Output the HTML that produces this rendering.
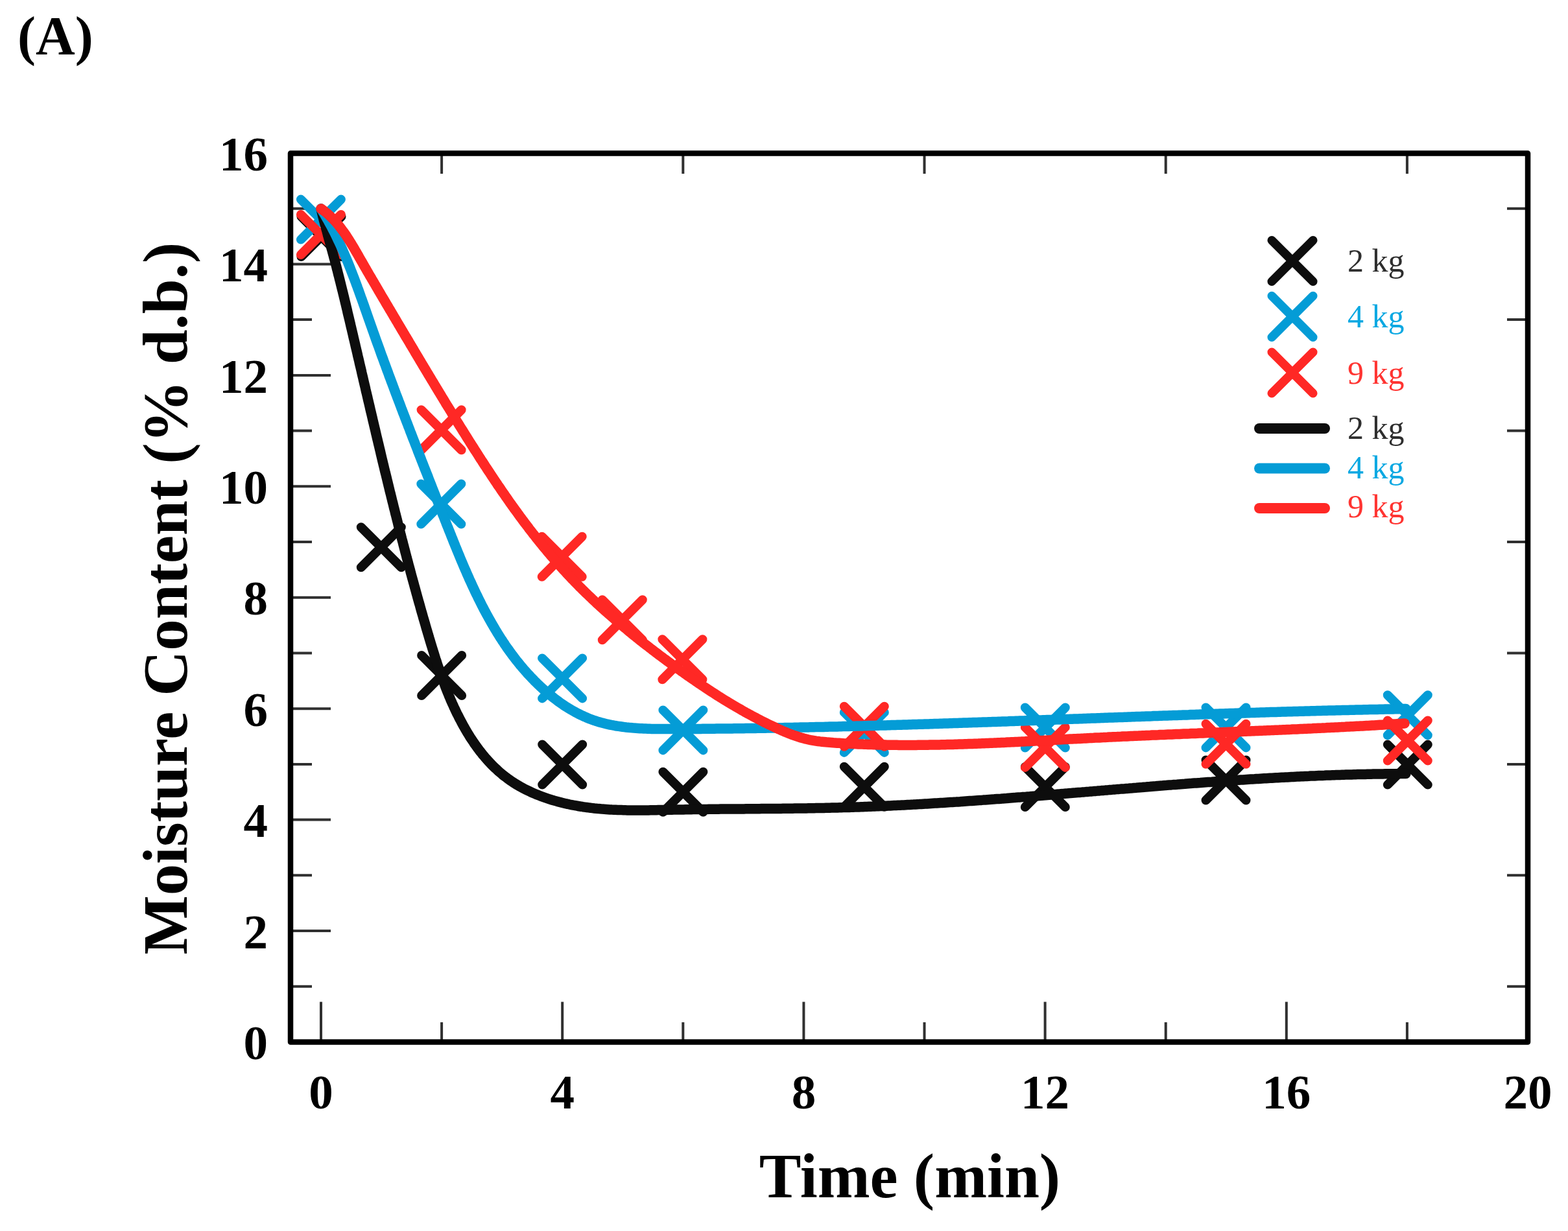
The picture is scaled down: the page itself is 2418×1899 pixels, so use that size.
<!DOCTYPE html>
<html><head><meta charset="utf-8"><title>Moisture Content vs Time</title>
<style>html,body{margin:0;padding:0;background:#fff;}body{width:2418px;height:1899px;overflow:hidden;}svg{display:block;}</style>
</head><body>
<div id="w"><svg width="2418" height="1899" viewBox="0 0 2418 1899">
<rect width="2418" height="1899" fill="#fff"/>
<path d="M448.0 1521.8H481.0M2356.0 1521.8H2324.0M448.0 1436.1H510.0M448.0 1350.3H481.0M2356.0 1350.3H2324.0M448.0 1264.6H510.0M448.0 1178.9H481.0M2356.0 1178.9H2324.0M448.0 1093.2H510.0M448.0 1007.5H481.0M2356.0 1007.5H2324.0M448.0 921.7H510.0M448.0 836.0H481.0M2356.0 836.0H2324.0M448.0 750.3H510.0M448.0 664.6H481.0M2356.0 664.6H2324.0M448.0 578.9H510.0M448.0 493.1H481.0M2356.0 493.1H2324.0M448.0 407.4H510.0M448.0 321.7H481.0M2356.0 321.7H2324.0M495.0 1607.5V1545.5M681.1 1607.5V1577.0M681.1 236.5V268.0M867.2 1607.5V1545.5M1053.3 1607.5V1577.0M1053.3 236.5V268.0M1239.4 1607.5V1545.5M1425.5 1607.5V1577.0M1425.5 236.5V268.0M1611.6 1607.5V1545.5M1797.7 1607.5V1577.0M1797.7 236.5V268.0M1983.8 1607.5V1545.5M2169.9 1607.5V1577.0M2169.9 236.5V268.0" stroke="#303030" stroke-width="4" fill="none"/>
<rect x="448" y="236.5" width="1908" height="1371" fill="none" stroke="#000" stroke-width="8.5" stroke-linejoin="round"/>
<path d="M464.5 334.0L526.5 396.0M464.5 396.0L526.5 334.0M556.8 813.3L618.8 875.3M556.8 875.3L618.8 813.3M650.1 1011.0L712.1 1073.0M650.1 1073.0L712.1 1011.0M836.2 1148.5L898.2 1210.5M836.2 1210.5L898.2 1148.5M1022.4 1190.8L1084.4 1252.8M1022.4 1252.8L1084.4 1190.8M1301.8 1182.8L1363.8 1244.8M1301.8 1244.8L1363.8 1182.8M1580.8 1183.0L1642.8 1245.0M1580.8 1245.0L1642.8 1183.0M1859.5 1172.5L1921.5 1234.5M1859.5 1234.5L1921.5 1172.5M2139.8 1148.6L2201.8 1210.6M2139.8 1210.6L2201.8 1148.6" stroke="#0d0d0d" stroke-width="14" stroke-linecap="round" fill="none"/>
<path d="M463.9 307.6L525.9 369.6M463.9 369.6L525.9 307.6M649.3 746.5L711.3 808.5M649.3 808.5L711.3 746.5M836.1 1015.4L898.1 1077.4M836.1 1077.4L898.1 1015.4M1022.4 1095.4L1084.4 1157.4M1022.4 1157.4L1084.4 1095.4M1301.8 1098.9L1363.8 1160.9M1301.8 1160.9L1363.8 1098.9M1580.8 1091.5L1642.8 1153.5M1580.8 1153.5L1642.8 1091.5M1859.5 1091.4L1921.5 1153.4M1859.5 1153.4L1921.5 1091.4M2139.8 1072.3L2201.8 1134.3M2139.8 1134.3L2201.8 1072.3" stroke="#049cd6" stroke-width="14" stroke-linecap="round" fill="none"/>
<path d="M463.9 331.0L525.9 393.0M463.9 393.0L525.9 331.0M649.6 632.2L711.6 694.2M649.6 694.2L711.6 632.2M835.7 827.8L897.7 889.8M835.7 889.8L897.7 827.8M928.8 925.3L990.8 987.3M928.8 987.3L990.8 925.3M1021.4 986.3L1083.4 1048.3M1021.4 1048.3L1083.4 986.3M1301.8 1089.7L1363.8 1151.7M1301.8 1151.7L1363.8 1089.7M1580.8 1121.9L1642.8 1183.9M1580.8 1183.9L1642.8 1121.9M1859.5 1116.8L1921.5 1178.8M1859.5 1178.8L1921.5 1116.8M2139.8 1111.5L2201.8 1173.5M2139.8 1173.5L2201.8 1111.5" stroke="#ff2825" stroke-width="14" stroke-linecap="round" fill="none"/>
<path d="M495.0 322.0 L495.7 324.9 L496.4 327.8 L497.1 330.7 L497.8 333.6 L498.6 336.5 L499.3 339.4 L500.1 342.3 L500.9 345.2 L501.6 348.1 L502.4 351.0 L503.2 353.9 L504.0 356.8 L504.8 359.7 L505.5 362.6 L506.3 365.5 L507.1 368.4 L507.9 371.3 L508.7 374.2 L509.5 377.1 L510.3 380.0 L511.1 382.9 L511.9 385.8 L512.7 388.7 L513.5 391.6 L514.3 394.5 L515.0 397.4 L515.8 400.3 L516.6 403.2 L517.3 406.1 L518.1 409.0 L518.9 411.9 L519.6 414.9 L520.4 417.8 L521.1 420.7 L521.8 423.6 L522.6 426.5 L523.3 429.4 L524.0 432.3 L524.8 435.2 L525.5 438.1 L526.2 441.0 L526.9 443.9 L527.6 446.8 L528.4 449.7 L529.1 452.6 L529.8 455.5 L530.5 458.4 L531.2 461.3 L531.9 464.2 L532.6 467.1 L533.3 470.1 L534.0 473.0 L534.7 475.9 L535.4 478.8 L536.0 481.7 L536.7 484.6 L537.4 487.5 L538.1 490.4 L538.8 493.3 L539.5 496.2 L540.2 499.1 L540.8 502.0 L541.5 504.9 L542.2 507.8 L542.9 510.8 L543.6 513.7 L544.3 516.6 L544.9 519.5 L545.6 522.4 L546.3 525.3 L547.0 528.2 L547.7 531.1 L548.3 534.0 L549.0 536.9 L549.7 539.8 L550.4 542.7 L551.1 545.7 L551.7 548.6 L552.4 551.5 L553.1 554.4 L553.8 557.3 L554.4 560.2 L555.1 563.1 L555.8 566.0 L556.5 568.9 L557.2 571.8 L557.8 574.8 L558.5 577.7 L559.2 580.6 L559.9 583.5 L560.5 586.4 L561.2 589.3 L561.9 592.2 L562.6 595.1 L563.3 598.0 L563.9 600.9 L564.6 603.9 L565.3 606.8 L566.0 609.7 L566.7 612.6 L567.3 615.5 L568.0 618.4 L568.7 621.3 L569.4 624.2 L570.1 627.1 L570.7 630.0 L571.4 633.0 L572.1 635.9 L572.8 638.8 L573.5 641.7 L574.2 644.6 L574.8 647.5 L575.5 650.4 L576.2 653.3 L576.9 656.3 L577.6 659.2 L578.3 662.1 L579.0 665.0 L579.6 667.9 L580.3 670.8 L581.0 673.7 L581.7 676.6 L582.4 679.5 L583.1 682.5 L583.8 685.4 L584.5 688.3 L585.2 691.2 L585.9 694.1 L586.6 697.0 L587.2 699.9 L587.9 702.8 L588.6 705.7 L589.3 708.7 L590.0 711.6 L590.7 714.5 L591.4 717.4 L592.1 720.3 L592.8 723.2 L593.5 726.1 L594.2 729.0 L595.0 732.0 L595.7 734.9 L596.4 737.8 L597.1 740.7 L597.8 743.6 L598.5 746.5 L599.2 749.4 L599.9 752.3 L600.6 755.3 L601.3 758.2 L602.1 761.1 L602.8 764.0 L603.5 766.9 L604.2 769.8 L604.9 772.7 L605.7 775.6 L606.4 778.5 L607.1 781.5 L607.8 784.4 L608.6 787.3 L609.3 790.2 L610.0 793.1 L610.8 796.0 L611.5 798.9 L612.2 801.8 L613.0 804.8 L613.7 807.7 L614.4 810.6 L615.2 813.5 L615.9 816.4 L616.7 819.3 L617.4 822.2 L618.1 825.1 L618.9 828.0 L619.6 831.0 L620.4 833.9 L621.2 836.8 L621.9 839.7 L622.7 842.6 L623.4 845.5 L624.2 848.4 L624.9 851.3 L625.7 854.3 L626.5 857.2 L627.2 860.1 L628.0 863.0 L628.8 865.9 L629.5 868.8 L630.3 871.7 L631.1 874.6 L631.9 877.5 L632.7 880.4 L633.4 883.4 L634.2 886.3 L635.0 889.2 L635.8 892.1 L636.6 895.0 L637.4 897.9 L638.2 900.8 L639.0 903.7 L639.8 906.6 L640.6 909.6 L641.4 912.5 L642.2 915.4 L643.0 918.3 L643.8 921.2 L644.6 924.1 L645.4 927.0 L646.2 929.9 L647.1 932.8 L647.9 935.7 L648.7 938.7 L649.5 941.6 L650.3 944.5 L651.2 947.4 L652.0 950.3 L652.8 953.2 L653.7 956.1 L654.5 959.0 L655.4 961.9 L656.2 964.8 L657.0 967.7 L657.9 970.7 L658.8 973.6 L659.6 976.5 L660.5 979.4 L661.3 982.3 L662.2 985.2 L663.1 988.1 L663.9 991.0 L664.8 993.9 L665.7 996.8 L666.6 999.7 L667.5 1002.6 L668.4 1005.5 L669.3 1008.4 L670.2 1011.3 L671.1 1014.2 L672.0 1017.1 L673.0 1019.9 L673.9 1022.8 L674.8 1025.7 L675.8 1028.6 L676.8 1031.4 L677.7 1034.3 L678.7 1037.1 L679.7 1040.0 L680.7 1042.8 L681.8 1045.7 L682.8 1048.5 L683.8 1051.4 L684.9 1054.2 L685.9 1057.0 L687.0 1059.8 L688.1 1062.6 L689.2 1065.4 L690.3 1068.2 L691.5 1071.0 L692.6 1073.8 L693.8 1076.5 L694.9 1079.3 L696.1 1082.0 L697.3 1084.8 L698.6 1087.5 L699.8 1090.3 L701.1 1093.0 L702.3 1095.7 L703.6 1098.4 L704.9 1101.1 L706.3 1103.7 L707.6 1106.4 L709.0 1109.1 L710.4 1111.7 L711.8 1114.4 L713.2 1117.0 L714.6 1119.6 L716.1 1122.2 L717.6 1124.8 L719.1 1127.4 L720.6 1129.9 L722.2 1132.5 L723.7 1135.0 L725.3 1137.6 L727.0 1140.1 L728.6 1142.5 L730.3 1145.0 L731.9 1147.5 L733.7 1149.9 L735.4 1152.3 L737.1 1154.7 L738.9 1157.1 L740.7 1159.4 L742.6 1161.8 L744.4 1164.1 L746.3 1166.3 L748.2 1168.6 L750.1 1170.8 L752.1 1173.0 L754.1 1175.2 L756.1 1177.3 L758.1 1179.5 L760.2 1181.6 L762.3 1183.6 L764.4 1185.6 L766.6 1187.6 L768.7 1189.6 L770.9 1191.5 L773.2 1193.4 L775.4 1195.3 L777.7 1197.1 L780.1 1198.9 L782.4 1200.7 L784.8 1202.4 L787.2 1204.1 L789.6 1205.8 L792.1 1207.4 L794.6 1209.0 L797.1 1210.5 L799.7 1212.0 L802.2 1213.5 L804.8 1214.9 L807.5 1216.3 L810.1 1217.7 L812.8 1219.0 L815.5 1220.3 L818.2 1221.6 L820.9 1222.8 L823.6 1224.0 L826.4 1225.2 L829.2 1226.3 L832.0 1227.4 L834.8 1228.5 L837.6 1229.5 L840.4 1230.5 L843.3 1231.5 L846.2 1232.5 L849.0 1233.4 L851.9 1234.3 L854.8 1235.1 L857.7 1235.9 L860.6 1236.7 L863.6 1237.5 L866.5 1238.3 L869.4 1239.0 L872.4 1239.7 L875.3 1240.3 L878.3 1241.0 L881.2 1241.6 L884.2 1242.2 L887.1 1242.7 L890.1 1243.2 L893.0 1243.8 L896.0 1244.2 L899.0 1244.7 L901.9 1245.1 L904.9 1245.5 L907.8 1245.9 L910.8 1246.3 L913.8 1246.6 L916.7 1247.0 L919.7 1247.3 L922.7 1247.6 L925.6 1247.8 L928.6 1248.1 L931.6 1248.3 L934.5 1248.5 L937.5 1248.7 L940.5 1248.9 L943.5 1249.1 L946.4 1249.2 L949.4 1249.3 L952.4 1249.5 L955.4 1249.6 L958.3 1249.6 L961.3 1249.7 L964.3 1249.8 L967.3 1249.9 L970.3 1249.9 L973.2 1249.9 L976.2 1250.0 L979.2 1250.0 L982.2 1250.0 L985.2 1250.0 L988.2 1250.0 L991.2 1249.9 L994.1 1249.9 L997.1 1249.9 L1000.1 1249.9 L1003.1 1249.8 L1006.1 1249.8 L1009.1 1249.7 L1012.1 1249.7 L1015.1 1249.6 L1018.1 1249.6 L1021.1 1249.5 L1024.0 1249.4 L1027.0 1249.4 L1030.0 1249.3 L1033.0 1249.2 L1036.0 1249.2 L1039.0 1249.1 L1042.0 1249.1 L1045.0 1249.0 L1048.0 1249.0 L1051.0 1248.9 L1054.0 1248.9 L1057.0 1248.8 L1060.0 1248.8 L1063.0 1248.7 L1066.0 1248.7 L1069.0 1248.6 L1072.0 1248.6 L1075.0 1248.5 L1078.0 1248.5 L1081.0 1248.5 L1084.0 1248.4 L1087.0 1248.4 L1090.0 1248.4 L1093.0 1248.3 L1096.0 1248.3 L1099.0 1248.3 L1102.0 1248.2 L1105.1 1248.2 L1108.1 1248.2 L1111.1 1248.1 L1114.1 1248.1 L1117.1 1248.1 L1120.1 1248.1 L1123.1 1248.0 L1126.1 1248.0 L1129.1 1248.0 L1132.1 1248.0 L1135.1 1247.9 L1138.1 1247.9 L1141.1 1247.9 L1144.2 1247.9 L1147.2 1247.9 L1150.2 1247.8 L1153.2 1247.8 L1156.2 1247.8 L1159.2 1247.8 L1162.2 1247.7 L1165.2 1247.7 L1168.2 1247.7 L1171.2 1247.7 L1174.3 1247.6 L1177.3 1247.6 L1180.3 1247.6 L1183.3 1247.6 L1186.3 1247.5 L1189.3 1247.5 L1192.3 1247.5 L1195.3 1247.5 L1198.3 1247.4 L1201.3 1247.4 L1204.4 1247.4 L1207.4 1247.3 L1210.4 1247.3 L1213.4 1247.3 L1216.4 1247.3 L1219.4 1247.2 L1222.4 1247.2 L1225.4 1247.1 L1228.4 1247.1 L1231.5 1247.1 L1234.5 1247.0 L1237.5 1247.0 L1240.5 1246.9 L1243.5 1246.9 L1246.5 1246.8 L1249.5 1246.8 L1252.5 1246.7 L1255.5 1246.7 L1258.5 1246.6 L1261.6 1246.6 L1264.6 1246.5 L1267.6 1246.5 L1270.6 1246.4 L1273.6 1246.3 L1276.6 1246.3 L1279.6 1246.2 L1282.6 1246.1 L1285.6 1246.0 L1288.6 1246.0 L1291.6 1245.9 L1294.6 1245.8 L1297.6 1245.7 L1300.7 1245.6 L1303.7 1245.6 L1306.7 1245.5 L1309.7 1245.4 L1312.7 1245.3 L1315.7 1245.2 L1318.7 1245.1 L1321.7 1245.0 L1324.7 1244.9 L1327.7 1244.8 L1330.7 1244.7 L1333.7 1244.5 L1336.7 1244.4 L1339.7 1244.3 L1342.7 1244.2 L1345.7 1244.1 L1348.7 1243.9 L1351.7 1243.8 L1354.7 1243.7 L1357.7 1243.6 L1360.7 1243.4 L1363.7 1243.3 L1366.7 1243.2 L1369.7 1243.0 L1372.7 1242.9 L1375.7 1242.7 L1378.7 1242.6 L1381.7 1242.5 L1384.7 1242.3 L1387.7 1242.2 L1390.7 1242.0 L1393.7 1241.9 L1396.7 1241.7 L1399.7 1241.5 L1402.7 1241.4 L1405.7 1241.2 L1408.7 1241.1 L1411.7 1240.9 L1414.7 1240.7 L1417.7 1240.6 L1420.7 1240.4 L1423.7 1240.2 L1426.6 1240.0 L1429.6 1239.9 L1432.6 1239.7 L1435.6 1239.5 L1438.6 1239.3 L1441.6 1239.1 L1444.6 1239.0 L1447.6 1238.8 L1450.6 1238.6 L1453.6 1238.4 L1456.6 1238.2 L1459.6 1238.0 L1462.6 1237.8 L1465.6 1237.6 L1468.6 1237.4 L1471.5 1237.2 L1474.5 1237.1 L1477.5 1236.9 L1480.5 1236.7 L1483.5 1236.4 L1486.5 1236.2 L1489.5 1236.0 L1492.5 1235.8 L1495.5 1235.6 L1498.5 1235.4 L1501.5 1235.2 L1504.4 1235.0 L1507.4 1234.8 L1510.4 1234.6 L1513.4 1234.4 L1516.4 1234.1 L1519.4 1233.9 L1522.4 1233.7 L1525.4 1233.5 L1528.4 1233.3 L1531.4 1233.1 L1534.3 1232.8 L1537.3 1232.6 L1540.3 1232.4 L1543.3 1232.2 L1546.3 1231.9 L1549.3 1231.7 L1552.3 1231.5 L1555.3 1231.2 L1558.3 1231.0 L1561.2 1230.8 L1564.2 1230.6 L1567.2 1230.3 L1570.2 1230.1 L1573.2 1229.9 L1576.2 1229.6 L1579.2 1229.4 L1582.2 1229.2 L1585.1 1228.9 L1588.1 1228.7 L1591.1 1228.4 L1594.1 1228.2 L1597.1 1228.0 L1600.1 1227.7 L1603.1 1227.5 L1606.0 1227.3 L1609.0 1227.0 L1612.0 1226.8 L1615.0 1226.5 L1618.0 1226.3 L1621.0 1226.0 L1624.0 1225.8 L1626.9 1225.6 L1629.9 1225.3 L1632.9 1225.1 L1635.9 1224.8 L1638.9 1224.6 L1641.9 1224.3 L1644.9 1224.1 L1647.8 1223.8 L1650.8 1223.6 L1653.8 1223.3 L1656.8 1223.1 L1659.8 1222.8 L1662.8 1222.6 L1665.8 1222.4 L1668.7 1222.1 L1671.7 1221.9 L1674.7 1221.6 L1677.7 1221.4 L1680.7 1221.1 L1683.7 1220.9 L1686.7 1220.6 L1689.6 1220.4 L1692.6 1220.1 L1695.6 1219.9 L1698.6 1219.6 L1701.6 1219.4 L1704.6 1219.1 L1707.6 1218.9 L1710.5 1218.6 L1713.5 1218.4 L1716.5 1218.1 L1719.5 1217.9 L1722.5 1217.6 L1725.5 1217.4 L1728.5 1217.1 L1731.4 1216.9 L1734.4 1216.7 L1737.4 1216.4 L1740.4 1216.2 L1743.4 1215.9 L1746.4 1215.7 L1749.3 1215.4 L1752.3 1215.2 L1755.3 1214.9 L1758.3 1214.7 L1761.3 1214.5 L1764.3 1214.2 L1767.3 1214.0 L1770.2 1213.7 L1773.2 1213.5 L1776.2 1213.2 L1779.2 1213.0 L1782.2 1212.8 L1785.2 1212.5 L1788.2 1212.3 L1791.1 1212.1 L1794.1 1211.8 L1797.1 1211.6 L1800.1 1211.3 L1803.1 1211.1 L1806.1 1210.9 L1809.1 1210.6 L1812.1 1210.4 L1815.0 1210.2 L1818.0 1209.9 L1821.0 1209.7 L1824.0 1209.5 L1827.0 1209.3 L1830.0 1209.0 L1833.0 1208.8 L1835.9 1208.6 L1838.9 1208.3 L1841.9 1208.1 L1844.9 1207.9 L1847.9 1207.7 L1850.9 1207.5 L1853.9 1207.2 L1856.9 1207.0 L1859.9 1206.8 L1862.8 1206.6 L1865.8 1206.4 L1868.8 1206.2 L1871.8 1205.9 L1874.8 1205.7 L1877.8 1205.5 L1880.8 1205.3 L1883.8 1205.1 L1886.8 1204.9 L1889.7 1204.7 L1892.7 1204.5 L1895.7 1204.3 L1898.7 1204.1 L1901.7 1203.9 L1904.7 1203.7 L1907.7 1203.5 L1910.7 1203.3 L1913.7 1203.1 L1916.7 1202.9 L1919.6 1202.7 L1922.6 1202.5 L1925.6 1202.3 L1928.6 1202.1 L1931.6 1201.9 L1934.6 1201.8 L1937.6 1201.6 L1940.6 1201.4 L1943.6 1201.2 L1946.6 1201.0 L1949.6 1200.8 L1952.6 1200.7 L1955.5 1200.5 L1958.5 1200.3 L1961.5 1200.2 L1964.5 1200.0 L1967.5 1199.8 L1970.5 1199.7 L1973.5 1199.5 L1976.5 1199.3 L1979.5 1199.2 L1982.5 1199.0 L1985.5 1198.9 L1988.5 1198.7 L1991.5 1198.5 L1994.5 1198.4 L1997.5 1198.2 L2000.5 1198.1 L2003.5 1198.0 L2006.5 1197.8 L2009.5 1197.7 L2012.5 1197.5 L2015.5 1197.4 L2018.4 1197.3 L2021.4 1197.1 L2024.4 1197.0 L2027.4 1196.9 L2030.4 1196.7 L2033.4 1196.6 L2036.4 1196.5 L2039.4 1196.4 L2042.4 1196.3 L2045.4 1196.1 L2048.4 1196.0 L2051.4 1195.9 L2054.4 1195.8 L2057.4 1195.7 L2060.4 1195.6 L2063.4 1195.5 L2066.4 1195.4 L2069.4 1195.3 L2072.4 1195.2 L2075.4 1195.1 L2078.5 1195.0 L2081.5 1195.0 L2084.5 1194.9 L2087.5 1194.8 L2090.5 1194.7 L2093.5 1194.6 L2096.5 1194.6 L2099.5 1194.5 L2102.5 1194.4 L2105.5 1194.4 L2108.5 1194.3 L2111.5 1194.2 L2114.5 1194.2 L2117.5 1194.1 L2120.5 1194.1 L2123.5 1194.0 L2126.5 1194.0 L2129.5 1193.9 L2132.5 1193.9 L2135.6 1193.8 L2138.6 1193.8 L2141.6 1193.8 L2144.6 1193.7 L2147.6 1193.7 L2150.6 1193.7 L2153.6 1193.7 L2156.6 1193.6 L2159.6 1193.6 L2162.6 1193.6 L2165.7 1193.6 L2168.0 1193.6" stroke="#0d0d0d" stroke-width="15.5" stroke-linecap="round" stroke-linejoin="round" fill="none"/>
<path d="M495.0 322.0 L496.6 324.5 L498.1 327.1 L499.7 329.6 L501.2 332.2 L502.7 334.7 L504.2 337.3 L505.7 339.9 L507.1 342.5 L508.5 345.1 L510.0 347.8 L511.4 350.4 L512.7 353.0 L514.1 355.7 L515.5 358.3 L516.8 361.0 L518.1 363.7 L519.4 366.4 L520.7 369.1 L522.0 371.8 L523.3 374.5 L524.5 377.2 L525.8 380.0 L527.0 382.7 L528.2 385.4 L529.4 388.2 L530.6 390.9 L531.8 393.7 L533.0 396.5 L534.2 399.3 L535.3 402.0 L536.5 404.8 L537.6 407.6 L538.7 410.4 L539.8 413.2 L540.9 416.0 L542.0 418.8 L543.1 421.6 L544.2 424.5 L545.3 427.3 L546.4 430.1 L547.4 432.9 L548.5 435.8 L549.5 438.6 L550.6 441.4 L551.6 444.3 L552.7 447.1 L553.7 450.0 L554.7 452.8 L555.7 455.6 L556.7 458.5 L557.8 461.3 L558.8 464.2 L559.8 467.0 L560.8 469.9 L561.8 472.7 L562.8 475.6 L563.8 478.4 L564.8 481.3 L565.8 484.1 L566.8 487.0 L567.8 489.8 L568.8 492.7 L569.8 495.5 L570.8 498.3 L571.8 501.2 L572.8 504.0 L573.8 506.8 L574.8 509.7 L575.8 512.5 L576.8 515.3 L577.8 518.1 L578.8 521.0 L579.8 523.8 L580.8 526.6 L581.8 529.4 L582.8 532.2 L583.9 535.0 L584.9 537.8 L585.9 540.6 L586.9 543.5 L587.9 546.3 L588.9 549.1 L590.0 551.9 L591.0 554.7 L592.0 557.5 L593.0 560.2 L594.1 563.0 L595.1 565.8 L596.1 568.6 L597.1 571.4 L598.2 574.2 L599.2 577.0 L600.2 579.8 L601.3 582.6 L602.3 585.3 L603.3 588.1 L604.4 590.9 L605.4 593.7 L606.5 596.5 L607.5 599.2 L608.5 602.0 L609.6 604.8 L610.6 607.6 L611.7 610.3 L612.7 613.1 L613.8 615.9 L614.8 618.7 L615.9 621.4 L616.9 624.2 L618.0 627.0 L619.0 629.8 L620.1 632.5 L621.1 635.3 L622.2 638.1 L623.3 640.8 L624.3 643.6 L625.4 646.4 L626.4 649.1 L627.5 651.9 L628.6 654.7 L629.6 657.5 L630.7 660.2 L631.8 663.0 L632.8 665.8 L633.9 668.5 L635.0 671.3 L636.0 674.1 L637.1 676.9 L638.2 679.6 L639.3 682.4 L640.3 685.2 L641.4 687.9 L642.5 690.7 L643.6 693.5 L644.6 696.3 L645.7 699.0 L646.8 701.8 L647.9 704.6 L649.0 707.4 L650.0 710.2 L651.1 712.9 L652.2 715.7 L653.3 718.5 L654.4 721.3 L655.5 724.1 L656.6 726.9 L657.7 729.6 L658.8 732.4 L659.9 735.2 L660.9 738.0 L662.0 740.8 L663.1 743.6 L664.2 746.4 L665.3 749.2 L666.4 752.0 L667.5 754.8 L668.6 757.6 L669.7 760.4 L670.8 763.2 L671.9 766.0 L673.0 768.8 L674.2 771.6 L675.3 774.4 L676.4 777.3 L677.5 780.1 L678.6 782.9 L679.7 785.7 L680.8 788.5 L681.9 791.4 L683.0 794.2 L684.2 797.0 L685.3 799.8 L686.4 802.7 L687.5 805.5 L688.6 808.4 L689.7 811.2 L690.9 814.0 L692.0 816.9 L693.1 819.7 L694.3 822.6 L695.4 825.4 L696.5 828.3 L697.7 831.1 L698.8 834.0 L699.9 836.8 L701.1 839.6 L702.2 842.5 L703.4 845.3 L704.6 848.2 L705.7 851.0 L706.9 853.9 L708.1 856.7 L709.2 859.5 L710.4 862.4 L711.6 865.2 L712.8 868.0 L714.0 870.9 L715.2 873.7 L716.4 876.5 L717.6 879.3 L718.9 882.1 L720.1 885.0 L721.3 887.8 L722.6 890.6 L723.8 893.4 L725.1 896.2 L726.4 898.9 L727.6 901.7 L728.9 904.5 L730.2 907.3 L731.5 910.1 L732.8 912.8 L734.1 915.6 L735.5 918.3 L736.8 921.1 L738.1 923.8 L739.5 926.5 L740.9 929.3 L742.2 932.0 L743.6 934.7 L745.0 937.4 L746.4 940.1 L747.8 942.8 L749.3 945.5 L750.7 948.1 L752.2 950.8 L753.6 953.4 L755.1 956.1 L756.6 958.7 L758.1 961.3 L759.6 963.9 L761.1 966.6 L762.6 969.1 L764.2 971.7 L765.8 974.3 L767.3 976.9 L768.9 979.4 L770.5 982.0 L772.1 984.5 L773.8 987.0 L775.4 989.5 L777.1 992.0 L778.7 994.5 L780.4 997.0 L782.1 999.4 L783.9 1001.9 L785.6 1004.3 L787.3 1006.7 L789.1 1009.1 L790.9 1011.5 L792.7 1013.9 L794.5 1016.2 L796.3 1018.6 L798.2 1020.9 L800.1 1023.2 L801.9 1025.6 L803.8 1027.8 L805.8 1030.1 L807.7 1032.4 L809.7 1034.6 L811.6 1036.8 L813.6 1039.1 L815.6 1041.2 L817.7 1043.4 L819.7 1045.6 L821.8 1047.7 L823.9 1049.9 L826.0 1052.0 L828.1 1054.1 L830.2 1056.1 L832.4 1058.2 L834.6 1060.2 L836.8 1062.3 L839.0 1064.3 L841.3 1066.2 L843.5 1068.2 L845.8 1070.1 L848.1 1072.0 L850.5 1073.9 L852.8 1075.8 L855.2 1077.6 L857.6 1079.4 L860.0 1081.2 L862.4 1083.0 L864.8 1084.7 L867.3 1086.4 L869.7 1088.1 L872.2 1089.7 L874.7 1091.3 L877.3 1092.9 L879.8 1094.4 L882.4 1095.9 L884.9 1097.3 L887.5 1098.8 L890.1 1100.1 L892.8 1101.5 L895.4 1102.8 L898.1 1104.0 L900.7 1105.3 L903.4 1106.4 L906.1 1107.6 L908.8 1108.7 L911.6 1109.7 L914.3 1110.7 L917.1 1111.7 L919.9 1112.6 L922.6 1113.5 L925.4 1114.3 L928.3 1115.1 L931.1 1115.8 L933.9 1116.5 L936.8 1117.2 L939.6 1117.8 L942.5 1118.4 L945.4 1118.9 L948.3 1119.5 L951.2 1120.0 L954.1 1120.4 L957.0 1120.8 L960.0 1121.2 L962.9 1121.6 L965.9 1122.0 L968.8 1122.3 L971.8 1122.6 L974.8 1122.8 L977.8 1123.1 L980.7 1123.3 L983.7 1123.5 L986.7 1123.7 L989.7 1123.8 L992.7 1124.0 L995.8 1124.1 L998.8 1124.2 L1001.8 1124.3 L1004.8 1124.4 L1007.8 1124.4 L1010.9 1124.5 L1013.9 1124.5 L1016.9 1124.5 L1020.0 1124.6 L1023.0 1124.6 L1026.1 1124.6 L1029.1 1124.6 L1032.1 1124.6 L1035.2 1124.6 L1038.2 1124.6 L1041.3 1124.6 L1044.3 1124.6 L1047.3 1124.5 L1050.4 1124.5 L1053.4 1124.5 L1056.4 1124.5 L1059.5 1124.5 L1062.5 1124.5 L1065.5 1124.5 L1068.6 1124.4 L1071.6 1124.4 L1074.6 1124.4 L1077.6 1124.4 L1080.7 1124.4 L1083.7 1124.3 L1086.7 1124.3 L1089.7 1124.3 L1092.8 1124.3 L1095.8 1124.2 L1098.8 1124.2 L1101.8 1124.2 L1104.9 1124.1 L1107.9 1124.1 L1110.9 1124.1 L1113.9 1124.1 L1116.9 1124.0 L1119.9 1124.0 L1123.0 1124.0 L1126.0 1123.9 L1129.0 1123.9 L1132.0 1123.8 L1135.0 1123.8 L1138.0 1123.8 L1141.0 1123.7 L1144.1 1123.7 L1147.1 1123.7 L1150.1 1123.6 L1153.1 1123.6 L1156.1 1123.5 L1159.1 1123.5 L1162.1 1123.4 L1165.1 1123.4 L1168.1 1123.3 L1171.1 1123.3 L1174.1 1123.3 L1177.1 1123.2 L1180.1 1123.2 L1183.1 1123.1 L1186.2 1123.1 L1189.2 1123.0 L1192.2 1123.0 L1195.2 1122.9 L1198.2 1122.8 L1201.2 1122.8 L1204.2 1122.7 L1207.2 1122.7 L1210.2 1122.6 L1213.2 1122.6 L1216.2 1122.5 L1219.2 1122.4 L1222.2 1122.4 L1225.2 1122.3 L1228.2 1122.3 L1231.2 1122.2 L1234.2 1122.1 L1237.2 1122.1 L1240.2 1122.0 L1243.1 1122.0 L1246.1 1121.9 L1249.1 1121.8 L1252.1 1121.8 L1255.1 1121.7 L1258.1 1121.6 L1261.1 1121.6 L1264.1 1121.5 L1267.1 1121.4 L1270.1 1121.4 L1273.1 1121.3 L1276.1 1121.2 L1279.1 1121.1 L1282.1 1121.1 L1285.1 1121.0 L1288.1 1120.9 L1291.1 1120.9 L1294.1 1120.8 L1297.1 1120.7 L1300.1 1120.6 L1303.0 1120.6 L1306.0 1120.5 L1309.0 1120.4 L1312.0 1120.3 L1315.0 1120.3 L1318.0 1120.2 L1321.0 1120.1 L1324.0 1120.0 L1327.0 1119.9 L1330.0 1119.9 L1333.0 1119.8 L1336.0 1119.7 L1339.0 1119.6 L1342.0 1119.5 L1345.0 1119.5 L1348.0 1119.4 L1350.9 1119.3 L1353.9 1119.2 L1356.9 1119.1 L1359.9 1119.0 L1362.9 1118.9 L1365.9 1118.9 L1368.9 1118.8 L1371.9 1118.7 L1374.9 1118.6 L1377.9 1118.5 L1380.9 1118.4 L1383.9 1118.3 L1386.9 1118.3 L1389.9 1118.2 L1392.9 1118.1 L1395.9 1118.0 L1398.8 1117.9 L1401.8 1117.8 L1404.8 1117.7 L1407.8 1117.6 L1410.8 1117.5 L1413.8 1117.4 L1416.8 1117.3 L1419.8 1117.2 L1422.8 1117.2 L1425.8 1117.1 L1428.8 1117.0 L1431.8 1116.9 L1434.8 1116.8 L1437.8 1116.7 L1440.8 1116.6 L1443.8 1116.5 L1446.8 1116.4 L1449.7 1116.3 L1452.7 1116.2 L1455.7 1116.1 L1458.7 1116.0 L1461.7 1115.9 L1464.7 1115.8 L1467.7 1115.7 L1470.7 1115.6 L1473.7 1115.5 L1476.7 1115.4 L1479.7 1115.3 L1482.7 1115.2 L1485.7 1115.1 L1488.7 1115.0 L1491.7 1114.9 L1494.7 1114.8 L1497.6 1114.7 L1500.6 1114.6 L1503.6 1114.5 L1506.6 1114.4 L1509.6 1114.3 L1512.6 1114.2 L1515.6 1114.1 L1518.6 1114.0 L1521.6 1113.9 L1524.6 1113.8 L1527.6 1113.7 L1530.6 1113.6 L1533.6 1113.5 L1536.6 1113.4 L1539.6 1113.3 L1542.6 1113.2 L1545.6 1113.1 L1548.5 1113.0 L1551.5 1112.9 L1554.5 1112.8 L1557.5 1112.6 L1560.5 1112.5 L1563.5 1112.4 L1566.5 1112.3 L1569.5 1112.2 L1572.5 1112.1 L1575.5 1112.0 L1578.5 1111.9 L1581.5 1111.8 L1584.5 1111.7 L1587.5 1111.6 L1590.5 1111.5 L1593.5 1111.4 L1596.5 1111.3 L1599.5 1111.2 L1602.4 1111.0 L1605.4 1110.9 L1608.4 1110.8 L1611.4 1110.7 L1614.4 1110.6 L1617.4 1110.5 L1620.4 1110.4 L1623.4 1110.3 L1626.4 1110.2 L1629.4 1110.1 L1632.4 1110.0 L1635.4 1109.9 L1638.4 1109.7 L1641.4 1109.6 L1644.4 1109.5 L1647.4 1109.4 L1650.4 1109.3 L1653.4 1109.2 L1656.4 1109.1 L1659.3 1109.0 L1662.3 1108.9 L1665.3 1108.8 L1668.3 1108.7 L1671.3 1108.5 L1674.3 1108.4 L1677.3 1108.3 L1680.3 1108.2 L1683.3 1108.1 L1686.3 1108.0 L1689.3 1107.9 L1692.3 1107.8 L1695.3 1107.7 L1698.3 1107.6 L1701.3 1107.5 L1704.3 1107.3 L1707.3 1107.2 L1710.3 1107.1 L1713.3 1107.0 L1716.3 1106.9 L1719.3 1106.8 L1722.3 1106.7 L1725.2 1106.6 L1728.2 1106.5 L1731.2 1106.4 L1734.2 1106.3 L1737.2 1106.2 L1740.2 1106.0 L1743.2 1105.9 L1746.2 1105.8 L1749.2 1105.7 L1752.2 1105.6 L1755.2 1105.5 L1758.2 1105.4 L1761.2 1105.3 L1764.2 1105.2 L1767.2 1105.1 L1770.2 1105.0 L1773.2 1104.9 L1776.2 1104.8 L1779.2 1104.6 L1782.2 1104.5 L1785.2 1104.4 L1788.2 1104.3 L1791.2 1104.2 L1794.2 1104.1 L1797.2 1104.0 L1800.2 1103.9 L1803.1 1103.8 L1806.1 1103.7 L1809.1 1103.6 L1812.1 1103.5 L1815.1 1103.4 L1818.1 1103.3 L1821.1 1103.2 L1824.1 1103.1 L1827.1 1103.0 L1830.1 1102.9 L1833.1 1102.8 L1836.1 1102.6 L1839.1 1102.5 L1842.1 1102.4 L1845.1 1102.3 L1848.1 1102.2 L1851.1 1102.1 L1854.1 1102.0 L1857.1 1101.9 L1860.1 1101.8 L1863.1 1101.7 L1866.1 1101.6 L1869.1 1101.5 L1872.1 1101.4 L1875.1 1101.3 L1878.1 1101.2 L1881.1 1101.1 L1884.1 1101.0 L1887.1 1100.9 L1890.1 1100.8 L1893.1 1100.7 L1896.1 1100.6 L1899.1 1100.5 L1902.1 1100.4 L1905.1 1100.3 L1908.1 1100.2 L1911.1 1100.1 L1914.1 1100.0 L1917.1 1099.9 L1920.1 1099.9 L1923.0 1099.8 L1926.0 1099.7 L1929.0 1099.6 L1932.0 1099.5 L1935.0 1099.4 L1938.0 1099.3 L1941.0 1099.2 L1944.0 1099.1 L1947.0 1099.0 L1950.0 1098.9 L1953.0 1098.8 L1956.0 1098.7 L1959.0 1098.6 L1962.0 1098.6 L1965.0 1098.5 L1968.0 1098.4 L1971.0 1098.3 L1974.0 1098.2 L1977.0 1098.1 L1980.0 1098.0 L1983.0 1097.9 L1986.0 1097.8 L1989.0 1097.8 L1992.0 1097.7 L1995.0 1097.6 L1998.0 1097.5 L2001.0 1097.4 L2004.0 1097.3 L2007.0 1097.2 L2010.0 1097.2 L2013.0 1097.1 L2016.0 1097.0 L2019.0 1096.9 L2022.0 1096.8 L2025.0 1096.7 L2028.0 1096.7 L2031.0 1096.6 L2034.0 1096.5 L2037.0 1096.4 L2040.0 1096.3 L2043.0 1096.3 L2046.0 1096.2 L2049.0 1096.1 L2052.0 1096.0 L2055.0 1096.0 L2058.0 1095.9 L2061.0 1095.8 L2064.0 1095.7 L2067.0 1095.7 L2070.0 1095.6 L2073.0 1095.5 L2076.0 1095.4 L2079.0 1095.4 L2082.0 1095.3 L2085.0 1095.2 L2088.0 1095.2 L2091.1 1095.1 L2094.1 1095.0 L2097.1 1094.9 L2100.1 1094.9 L2103.1 1094.8 L2106.1 1094.7 L2109.1 1094.7 L2112.1 1094.6 L2115.1 1094.5 L2118.1 1094.5 L2121.1 1094.4 L2124.1 1094.4 L2127.1 1094.3 L2130.1 1094.2 L2133.1 1094.2 L2136.1 1094.1 L2139.1 1094.0 L2142.1 1094.0 L2145.1 1093.9 L2148.1 1093.9 L2151.1 1093.8 L2154.1 1093.8 L2157.1 1093.7 L2160.1 1093.6 L2163.1 1093.6 L2166.1 1093.5 L2168.0 1093.5" stroke="#049cd6" stroke-width="15.5" stroke-linecap="round" stroke-linejoin="round" fill="none"/>
<path d="M495.0 322.0 L497.5 323.7 L499.9 325.5 L502.2 327.4 L504.5 329.3 L506.7 331.3 L508.9 333.3 L511.1 335.4 L513.2 337.5 L515.2 339.6 L517.2 341.8 L519.2 344.0 L521.1 346.3 L523.0 348.6 L524.8 351.0 L526.6 353.4 L528.4 355.8 L530.2 358.2 L531.9 360.7 L533.6 363.1 L535.3 365.7 L536.9 368.2 L538.5 370.7 L540.1 373.3 L541.7 375.9 L543.3 378.5 L544.9 381.1 L546.4 383.7 L547.9 386.3 L549.5 389.0 L551.0 391.6 L552.5 394.2 L554.0 396.9 L555.5 399.5 L557.0 402.1 L558.5 404.7 L560.0 407.3 L561.5 410.0 L563.0 412.6 L564.5 415.2 L566.0 417.8 L567.5 420.4 L569.0 423.0 L570.5 425.6 L572.0 428.1 L573.5 430.7 L575.1 433.3 L576.6 435.9 L578.1 438.5 L579.6 441.0 L581.1 443.6 L582.6 446.2 L584.1 448.8 L585.6 451.3 L587.1 453.9 L588.6 456.5 L590.1 459.0 L591.7 461.6 L593.2 464.2 L594.7 466.7 L596.2 469.3 L597.7 471.8 L599.2 474.4 L600.7 477.0 L602.3 479.5 L603.8 482.1 L605.3 484.7 L606.8 487.2 L608.3 489.8 L609.9 492.4 L611.4 494.9 L612.9 497.5 L614.4 500.1 L616.0 502.7 L617.5 505.2 L619.0 507.8 L620.5 510.4 L622.1 513.0 L623.6 515.6 L625.1 518.2 L626.7 520.7 L628.2 523.3 L629.8 525.9 L631.3 528.5 L632.8 531.1 L634.4 533.7 L635.9 536.3 L637.5 538.9 L639.0 541.5 L640.5 544.1 L642.1 546.7 L643.6 549.3 L645.2 551.9 L646.7 554.5 L648.3 557.1 L649.8 559.7 L651.4 562.3 L652.9 564.9 L654.5 567.5 L656.1 570.1 L657.6 572.7 L659.2 575.3 L660.7 577.9 L662.3 580.5 L663.9 583.1 L665.4 585.7 L667.0 588.3 L668.6 590.9 L670.1 593.5 L671.7 596.1 L673.3 598.7 L674.8 601.3 L676.4 603.9 L678.0 606.5 L679.6 609.1 L681.1 611.7 L682.7 614.3 L684.3 616.9 L685.9 619.5 L687.4 622.1 L689.0 624.7 L690.6 627.2 L692.2 629.8 L693.8 632.4 L695.4 635.0 L696.9 637.6 L698.5 640.2 L700.1 642.8 L701.7 645.3 L703.3 647.9 L704.9 650.5 L706.5 653.0 L708.1 655.6 L709.7 658.2 L711.3 660.8 L712.9 663.3 L714.5 665.9 L716.1 668.4 L717.7 671.0 L719.3 673.5 L720.9 676.1 L722.5 678.6 L724.1 681.2 L725.7 683.7 L727.3 686.3 L728.9 688.8 L730.5 691.3 L732.1 693.9 L733.8 696.4 L735.4 698.9 L737.0 701.4 L738.6 704.0 L740.2 706.5 L741.8 709.0 L743.5 711.5 L745.1 714.0 L746.7 716.5 L748.3 719.0 L750.0 721.5 L751.6 724.0 L753.2 726.4 L754.9 728.9 L756.5 731.4 L758.1 733.9 L759.8 736.4 L761.4 738.8 L763.1 741.3 L764.7 743.7 L766.4 746.2 L768.0 748.7 L769.7 751.1 L771.4 753.5 L773.0 756.0 L774.7 758.4 L776.4 760.9 L778.1 763.3 L779.7 765.7 L781.4 768.1 L783.1 770.5 L784.8 773.0 L786.5 775.4 L788.2 777.8 L789.9 780.2 L791.6 782.6 L793.3 785.0 L795.1 787.4 L796.8 789.7 L798.5 792.1 L800.3 794.5 L802.0 796.9 L803.7 799.2 L805.5 801.6 L807.3 804.0 L809.0 806.3 L810.8 808.7 L812.6 811.0 L814.4 813.3 L816.1 815.7 L817.9 818.0 L819.7 820.3 L821.5 822.7 L823.4 825.0 L825.2 827.3 L827.0 829.6 L828.8 831.9 L830.7 834.2 L832.5 836.5 L834.4 838.8 L836.3 841.1 L838.1 843.4 L840.0 845.6 L841.9 847.9 L843.8 850.2 L845.7 852.5 L847.6 854.7 L849.5 857.0 L851.4 859.2 L853.4 861.5 L855.3 863.7 L857.3 865.9 L859.2 868.2 L861.2 870.4 L863.2 872.6 L865.2 874.8 L867.2 877.0 L869.2 879.2 L871.2 881.4 L873.2 883.6 L875.3 885.8 L877.3 888.0 L879.4 890.2 L881.4 892.4 L883.5 894.5 L885.6 896.7 L887.7 898.8 L889.8 901.0 L891.9 903.1 L894.0 905.3 L896.2 907.4 L898.3 909.6 L900.5 911.7 L902.6 913.8 L904.8 915.9 L907.0 918.0 L909.2 920.1 L911.4 922.2 L913.6 924.3 L915.8 926.4 L918.0 928.5 L920.2 930.6 L922.5 932.6 L924.7 934.7 L927.0 936.8 L929.2 938.8 L931.5 940.9 L933.8 942.9 L936.1 944.9 L938.4 947.0 L940.7 949.0 L943.0 951.0 L945.3 953.0 L947.6 955.0 L949.9 957.1 L952.3 959.0 L954.6 961.0 L956.9 963.0 L959.3 965.0 L961.6 967.0 L964.0 968.9 L966.4 970.9 L968.7 972.9 L971.1 974.8 L973.5 976.8 L975.8 978.7 L978.2 980.6 L980.6 982.5 L983.0 984.5 L985.4 986.4 L987.8 988.3 L990.2 990.2 L992.6 992.1 L995.0 994.0 L997.4 995.8 L999.9 997.7 L1002.3 999.6 L1004.7 1001.4 L1007.1 1003.3 L1009.5 1005.1 L1012.0 1007.0 L1014.4 1008.8 L1016.8 1010.7 L1019.3 1012.5 L1021.7 1014.3 L1024.1 1016.1 L1026.6 1017.9 L1029.0 1019.7 L1031.5 1021.5 L1033.9 1023.3 L1036.3 1025.1 L1038.8 1026.8 L1041.2 1028.6 L1043.7 1030.3 L1046.1 1032.1 L1048.5 1033.8 L1051.0 1035.6 L1053.4 1037.3 L1055.9 1039.0 L1058.3 1040.7 L1060.7 1042.5 L1063.2 1044.2 L1065.6 1045.9 L1068.0 1047.5 L1070.5 1049.2 L1072.9 1050.9 L1075.4 1052.6 L1077.8 1054.2 L1080.3 1055.9 L1082.7 1057.5 L1085.2 1059.2 L1087.6 1060.8 L1090.1 1062.4 L1092.5 1064.0 L1095.0 1065.6 L1097.4 1067.2 L1099.9 1068.8 L1102.4 1070.4 L1104.8 1072.0 L1107.3 1073.6 L1109.8 1075.1 L1112.3 1076.7 L1114.8 1078.3 L1117.3 1079.8 L1119.8 1081.3 L1122.3 1082.9 L1124.8 1084.4 L1127.3 1085.9 L1129.8 1087.4 L1132.4 1088.9 L1134.9 1090.4 L1137.5 1091.9 L1140.0 1093.3 L1142.6 1094.8 L1145.1 1096.3 L1147.7 1097.7 L1150.3 1099.2 L1152.9 1100.6 L1155.5 1102.0 L1158.1 1103.4 L1160.7 1104.9 L1163.3 1106.3 L1166.0 1107.6 L1168.6 1109.0 L1171.3 1110.4 L1174.0 1111.8 L1176.6 1113.1 L1179.3 1114.5 L1182.0 1115.8 L1184.7 1117.2 L1187.5 1118.5 L1190.2 1119.8 L1192.9 1121.1 L1195.7 1122.4 L1198.5 1123.7 L1201.2 1125.0 L1204.0 1126.2 L1206.8 1127.5 L1209.6 1128.7 L1212.5 1129.8 L1215.3 1131.0 L1218.1 1132.1 L1221.0 1133.2 L1223.8 1134.2 L1226.7 1135.2 L1229.6 1136.2 L1232.4 1137.1 L1235.3 1138.0 L1238.2 1138.8 L1241.1 1139.6 L1244.0 1140.3 L1246.9 1141.0 L1249.8 1141.6 L1252.7 1142.1 L1255.7 1142.6 L1258.6 1143.1 L1261.5 1143.5 L1264.5 1143.9 L1267.4 1144.2 L1270.3 1144.5 L1273.3 1144.8 L1276.2 1145.1 L1279.2 1145.3 L1282.1 1145.5 L1285.1 1145.8 L1288.0 1146.0 L1291.0 1146.2 L1294.0 1146.3 L1296.9 1146.5 L1299.9 1146.7 L1302.8 1146.9 L1305.8 1147.0 L1308.8 1147.2 L1311.7 1147.3 L1314.7 1147.5 L1317.6 1147.6 L1320.6 1147.7 L1323.6 1147.9 L1326.5 1148.0 L1329.5 1148.1 L1332.5 1148.2 L1335.4 1148.3 L1338.4 1148.4 L1341.4 1148.5 L1344.3 1148.6 L1347.3 1148.7 L1350.3 1148.8 L1353.3 1148.9 L1356.2 1148.9 L1359.2 1149.0 L1362.2 1149.0 L1365.1 1149.1 L1368.1 1149.2 L1371.1 1149.2 L1374.1 1149.2 L1377.1 1149.3 L1380.0 1149.3 L1383.0 1149.3 L1386.0 1149.4 L1389.0 1149.4 L1391.9 1149.4 L1394.9 1149.4 L1397.9 1149.4 L1400.9 1149.4 L1403.9 1149.4 L1406.9 1149.4 L1409.8 1149.4 L1412.8 1149.4 L1415.8 1149.3 L1418.8 1149.3 L1421.8 1149.3 L1424.8 1149.3 L1427.8 1149.2 L1430.8 1149.2 L1433.7 1149.1 L1436.7 1149.1 L1439.7 1149.0 L1442.7 1149.0 L1445.7 1148.9 L1448.7 1148.9 L1451.7 1148.8 L1454.7 1148.7 L1457.7 1148.7 L1460.7 1148.6 L1463.7 1148.5 L1466.7 1148.4 L1469.7 1148.4 L1472.7 1148.3 L1475.7 1148.2 L1478.7 1148.1 L1481.7 1148.0 L1484.7 1147.9 L1487.7 1147.8 L1490.7 1147.7 L1493.7 1147.6 L1496.7 1147.5 L1499.7 1147.4 L1502.7 1147.3 L1505.7 1147.2 L1508.7 1147.1 L1511.7 1146.9 L1514.7 1146.8 L1517.7 1146.7 L1520.7 1146.6 L1523.7 1146.5 L1526.7 1146.3 L1529.7 1146.2 L1532.7 1146.1 L1535.7 1145.9 L1538.7 1145.8 L1541.7 1145.7 L1544.7 1145.5 L1547.7 1145.4 L1550.7 1145.3 L1553.7 1145.1 L1556.8 1145.0 L1559.8 1144.8 L1562.8 1144.7 L1565.8 1144.5 L1568.8 1144.4 L1571.8 1144.2 L1574.8 1144.1 L1577.8 1143.9 L1580.8 1143.8 L1583.8 1143.6 L1586.9 1143.5 L1589.9 1143.3 L1592.9 1143.2 L1595.9 1143.0 L1598.9 1142.8 L1601.9 1142.7 L1604.9 1142.5 L1607.9 1142.4 L1611.0 1142.2 L1614.0 1142.1 L1617.0 1141.9 L1620.0 1141.7 L1623.0 1141.6 L1626.0 1141.4 L1629.0 1141.3 L1632.1 1141.1 L1635.1 1140.9 L1638.1 1140.8 L1641.1 1140.6 L1644.1 1140.5 L1647.1 1140.3 L1650.2 1140.1 L1653.2 1140.0 L1656.2 1139.8 L1659.2 1139.7 L1662.2 1139.5 L1665.2 1139.4 L1668.3 1139.2 L1671.3 1139.1 L1674.3 1138.9 L1677.3 1138.7 L1680.3 1138.6 L1683.3 1138.4 L1686.4 1138.3 L1689.4 1138.1 L1692.4 1138.0 L1695.4 1137.9 L1698.4 1137.7 L1701.4 1137.6 L1704.5 1137.4 L1707.5 1137.3 L1710.5 1137.1 L1713.5 1137.0 L1716.5 1136.8 L1719.6 1136.7 L1722.6 1136.6 L1725.6 1136.4 L1728.6 1136.3 L1731.6 1136.1 L1734.6 1136.0 L1737.7 1135.9 L1740.7 1135.7 L1743.7 1135.6 L1746.7 1135.5 L1749.7 1135.3 L1752.8 1135.2 L1755.8 1135.1 L1758.8 1134.9 L1761.8 1134.8 L1764.8 1134.7 L1767.8 1134.5 L1770.9 1134.4 L1773.9 1134.3 L1776.9 1134.1 L1779.9 1134.0 L1782.9 1133.9 L1786.0 1133.8 L1789.0 1133.6 L1792.0 1133.5 L1795.0 1133.4 L1798.0 1133.2 L1801.0 1133.1 L1804.1 1133.0 L1807.1 1132.9 L1810.1 1132.7 L1813.1 1132.6 L1816.1 1132.5 L1819.1 1132.4 L1822.2 1132.2 L1825.2 1132.1 L1828.2 1132.0 L1831.2 1131.9 L1834.2 1131.8 L1837.2 1131.6 L1840.2 1131.5 L1843.3 1131.4 L1846.3 1131.3 L1849.3 1131.1 L1852.3 1131.0 L1855.3 1130.9 L1858.3 1130.8 L1861.3 1130.6 L1864.4 1130.5 L1867.4 1130.4 L1870.4 1130.3 L1873.4 1130.2 L1876.4 1130.0 L1879.4 1129.9 L1882.4 1129.8 L1885.4 1129.7 L1888.4 1129.5 L1891.5 1129.4 L1894.5 1129.3 L1897.5 1129.2 L1900.5 1129.1 L1903.5 1128.9 L1906.5 1128.8 L1909.5 1128.7 L1912.5 1128.6 L1915.5 1128.4 L1918.5 1128.3 L1921.5 1128.2 L1924.6 1128.1 L1927.6 1128.0 L1930.6 1127.8 L1933.6 1127.7 L1936.6 1127.6 L1939.6 1127.5 L1942.6 1127.3 L1945.6 1127.2 L1948.6 1127.1 L1951.6 1126.9 L1954.6 1126.8 L1957.6 1126.7 L1960.6 1126.6 L1963.6 1126.4 L1966.6 1126.3 L1969.6 1126.2 L1972.6 1126.1 L1975.6 1125.9 L1978.6 1125.8 L1981.6 1125.7 L1984.6 1125.5 L1987.6 1125.4 L1990.6 1125.3 L1993.6 1125.1 L1996.6 1125.0 L1999.6 1124.9 L2002.6 1124.7 L2005.6 1124.6 L2008.6 1124.5 L2011.6 1124.3 L2014.6 1124.2 L2017.6 1124.0 L2020.5 1123.9 L2023.5 1123.8 L2026.5 1123.6 L2029.5 1123.5 L2032.5 1123.3 L2035.5 1123.2 L2038.5 1123.1 L2041.5 1122.9 L2044.5 1122.8 L2047.4 1122.6 L2050.4 1122.5 L2053.4 1122.3 L2056.4 1122.2 L2059.4 1122.0 L2062.4 1121.9 L2065.4 1121.7 L2068.3 1121.6 L2071.3 1121.4 L2074.3 1121.3 L2077.3 1121.1 L2080.3 1121.0 L2083.2 1120.8 L2086.2 1120.7 L2089.2 1120.5 L2092.2 1120.3 L2095.2 1120.2 L2098.1 1120.0 L2101.1 1119.9 L2104.1 1119.7 L2107.1 1119.5 L2110.0 1119.4 L2113.0 1119.2 L2116.0 1119.0 L2118.9 1118.9 L2121.9 1118.7 L2124.9 1118.5 L2127.8 1118.3 L2130.8 1118.2 L2133.8 1118.0 L2136.7 1117.8 L2139.7 1117.6 L2142.7 1117.5 L2145.6 1117.3 L2148.6 1117.1 L2151.6 1116.9 L2154.5 1116.7 L2157.5 1116.5 L2160.4 1116.4 L2163.4 1116.2 L2166.0 1116.0" stroke="#ff2825" stroke-width="15.5" stroke-linecap="round" stroke-linejoin="round" fill="none"/>
<path d="M1961.2 370.7L2024.8 434.3M1961.2 434.3L2024.8 370.7" stroke="#0d0d0d" stroke-width="13.5" stroke-linecap="round" fill="none"/>
<path d="M1961.2 456.6L2024.8 520.2M1961.2 520.2L2024.8 456.6" stroke="#049cd6" stroke-width="13.5" stroke-linecap="round" fill="none"/>
<path d="M1961.2 543.2L2024.8 606.8M1961.2 606.8L2024.8 543.2" stroke="#ff2825" stroke-width="13.5" stroke-linecap="round" fill="none"/>
<path d="M1942 661.0H2043" stroke="#0d0d0d" stroke-width="16" stroke-linecap="round"/>
<path d="M1942 722.5H2043" stroke="#049cd6" stroke-width="16" stroke-linecap="round"/>
<path d="M1942 784.0H2043" stroke="#ff2825" stroke-width="16" stroke-linecap="round"/>
<text x="2078" y="418.8" fill="#2e2e2e" font-family="Liberation Serif, serif" font-size="50">2 kg</text>
<text x="2078" y="504.5" fill="#0ba8e2" font-family="Liberation Serif, serif" font-size="50">4 kg</text>
<text x="2078" y="591.5" fill="#ff3431" font-family="Liberation Serif, serif" font-size="50">9 kg</text>
<text x="2078" y="677.3" fill="#2e2e2e" font-family="Liberation Serif, serif" font-size="50">2 kg</text>
<text x="2078" y="738" fill="#0ba8e2" font-family="Liberation Serif, serif" font-size="50">4 kg</text>
<text x="2078" y="797.8" fill="#ff3431" font-family="Liberation Serif, serif" font-size="50">9 kg</text>
<text x="413" y="1634.1" text-anchor="end" font-size="75" font-family="Liberation Serif, serif" font-weight="bold">0</text>
<text x="413" y="1462.7" text-anchor="end" font-size="75" font-family="Liberation Serif, serif" font-weight="bold">2</text>
<text x="413" y="1291.2" text-anchor="end" font-size="75" font-family="Liberation Serif, serif" font-weight="bold">4</text>
<text x="413" y="1119.8" text-anchor="end" font-size="75" font-family="Liberation Serif, serif" font-weight="bold">6</text>
<text x="413" y="948.3" text-anchor="end" font-size="75" font-family="Liberation Serif, serif" font-weight="bold">8</text>
<text x="413" y="776.9" text-anchor="end" font-size="75" font-family="Liberation Serif, serif" font-weight="bold">10</text>
<text x="413" y="605.5" text-anchor="end" font-size="75" font-family="Liberation Serif, serif" font-weight="bold">12</text>
<text x="413" y="434.0" text-anchor="end" font-size="75" font-family="Liberation Serif, serif" font-weight="bold">14</text>
<text x="413" y="262.6" text-anchor="end" font-size="75" font-family="Liberation Serif, serif" font-weight="bold">16</text>
<text x="495.0" y="1709.6" text-anchor="middle" font-size="75" font-family="Liberation Serif, serif" font-weight="bold">0</text>
<text x="867.2" y="1709.6" text-anchor="middle" font-size="75" font-family="Liberation Serif, serif" font-weight="bold">4</text>
<text x="1239.4" y="1709.6" text-anchor="middle" font-size="75" font-family="Liberation Serif, serif" font-weight="bold">8</text>
<text x="1611.6" y="1709.6" text-anchor="middle" font-size="75" font-family="Liberation Serif, serif" font-weight="bold">12</text>
<text x="1983.8" y="1709.6" text-anchor="middle" font-size="75" font-family="Liberation Serif, serif" font-weight="bold">16</text>
<text x="2356.0" y="1709.6" text-anchor="middle" font-size="75" font-family="Liberation Serif, serif" font-weight="bold">20</text>
<text x="1403" y="1846.5" text-anchor="middle" font-size="97" font-family="Liberation Serif, serif" font-weight="bold">Time (min)</text>
<text transform="translate(288 923.3) rotate(-90)" x="0" y="0" text-anchor="middle" font-size="96.9" font-family="Liberation Serif, serif" font-weight="bold">Moisture Content (% d.b.)</text>
<text x="27" y="84" font-size="84" font-family="Liberation Serif, serif" font-weight="bold">(A)</text>
</svg></div>
</body></html>
